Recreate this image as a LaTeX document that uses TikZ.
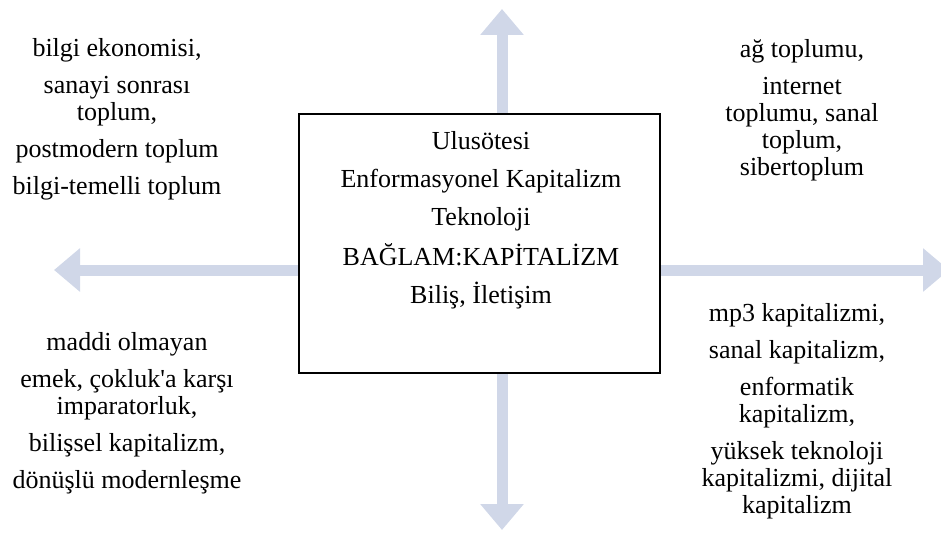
\documentclass[tikz,border=0pt]{standalone}
\usepackage{fontspec}
\setmainfont{Liberation Serif}
\usepackage{xcolor}
\usetikzlibrary{positioning, arrows.meta}
\definecolor{axisblue}{RGB}{208,215,232}
\tikzstyle{Axis} = [
line width=11pt, draw=axisblue,
{Triangle[width=42pt,length=26pt]}-{Triangle[width=42pt,length=26pt]}]
\tikzstyle{Frame} = [draw, line width=1.5pt, fill=white,
minimum width=361pt, minimum height=259pt, inner sep=0pt]
\tikzstyle{Label} = [align=center, anchor=base, inner sep=0pt,
font=\fontsize{26}{27}\selectfont]

\begin{document}
\begin{tikzpicture}[x=1pt, y=-1pt]
    \useasboundingbox (0,0) rectangle (941,532);
    \coordinate (ntip) at (502,9);
    \coordinate (stip) at (502,530);
    \coordinate (wtip) at (54,270);
    \coordinate (etip) at (949,270);

    \draw[Axis] (stip)--(ntip);
    \draw[Axis] (wtip)--(etip);

    % base anchor sits on the last line
    \node [Frame] (ctx) at (479.5,243.5) {};
    \node [Label] (ctxtext) at (481,303) {Ulusötesi\\[11pt]
        Enformasyonel Kapitalizm\\[11pt] Teknoloji\\[11pt]
        BAĞLAM:KAPİTALİZM\\[11pt] Biliş, İletişim};

    \node [Label] (bilgi) at (117,194) {bilgi ekonomisi,\\[10pt]
        sanayi sonrası\\ toplum,\\[10pt] postmodern toplum\\[10pt]
        bilgi-temelli toplum};
    \node [Label] (ag) at (802,175) {ağ toplumu,\\[10pt]
        internet\\ toplumu, sanal\\ toplum,\\ sibertoplum};
    \node [Label] (emek) at (127,488) {maddi olmayan\\[10pt]
        emek, çokluk\textquotesingle a karşı\\ imparatorluk,\\[10pt]
        bilişsel kapitalizm,\\[10pt] dönüşlü modernleşme};
    \node [Label] (kapital) at (797,513) {mp3 kapitalizmi,\\[10pt]
        sanal kapitalizm,\\[10pt] enformatik\\ kapitalizm,\\[10pt]
        yüksek teknoloji\\ kapitalizmi, dijital\\ kapitalizm};
\end{tikzpicture}
\end{document}
